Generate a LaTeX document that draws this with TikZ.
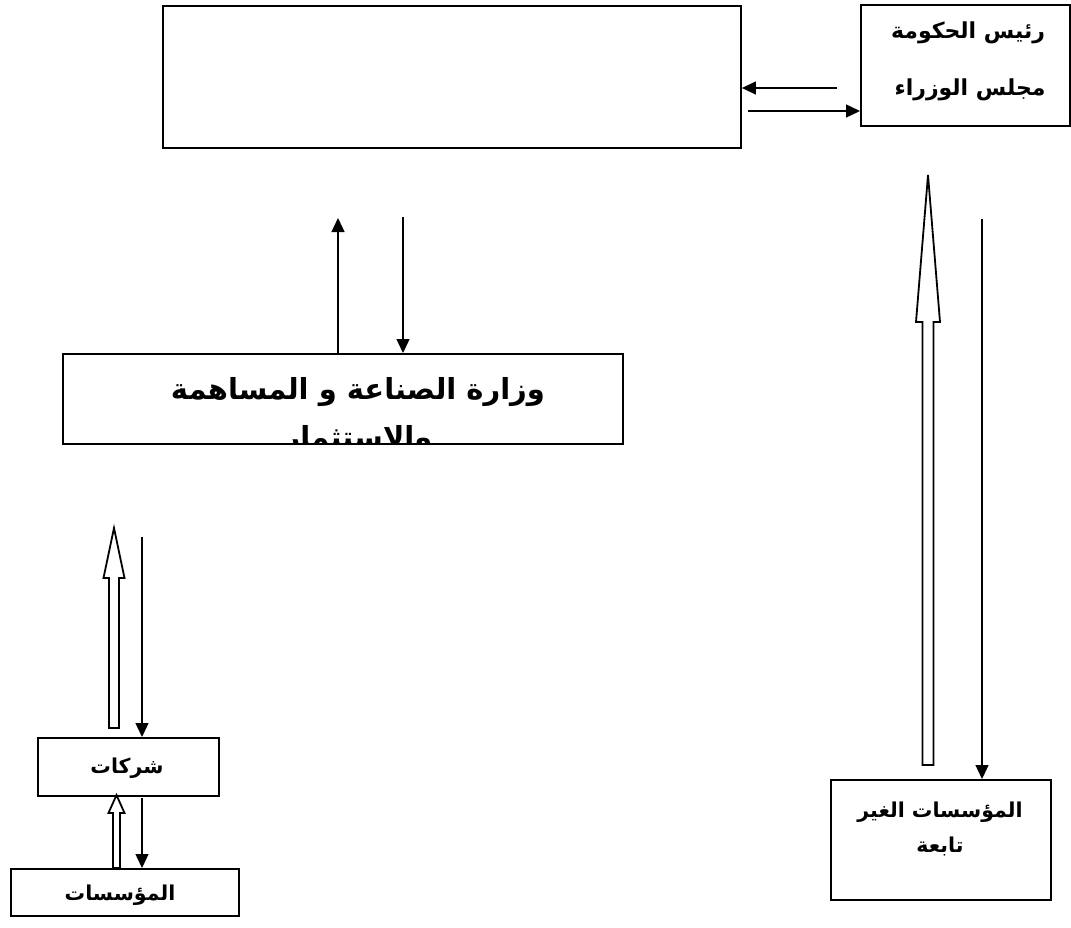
\documentclass[tikz,border=0pt]{standalone}
\usepackage{fontspec}
\newfontfamily\arabicfont[Script=Arabic]{DejaVu Sans}
\TeXXeTstate=1
\usetikzlibrary{arrows.meta,calc}
\newcommand\blockarrow[6]{% xc, ybottom, ytip, ybase, shafthalf, headhalf
  \draw[hollow] ({#1-#5},#2) -- ({#1-#5},#4) -- ({#1-#6},#4) -- (#1,#3)
     -- ({#1+#6},#4) -- ({#1+#5},#4) -- ({#1+#5},#2) -- cycle;}
\begin{document}
\begin{tikzpicture}[x=1pt,y=-1pt,
  box/.style={draw, line width=1.9pt, anchor=north west, inner sep=0pt},
  conn/.style={line width=1.4pt, -{Triangle[length=14pt,width=13pt]}},
  hollow/.style={draw, line width=1.8pt, fill=white, line join=miter},
  lbl/.style={font=\arabicfont\bfseries\fontsize{20.5}{24}\selectfont, inner sep=0pt},
  pmlbl/.style={font=\arabicfont\bfseries\fontsize{22}{26}\selectfont, inner sep=0pt},
  big/.style={font=\arabicfont\bfseries\fontsize{29}{34}\selectfont, inner sep=0pt}]
\useasboundingbox (0,0) rectangle (1071,927);
\fill[white] (0,0) rectangle (1071,927);
% boxes
\node[box, minimum width=578pt, minimum height=142pt] (top) at (162,5) {};
\node[box, minimum width=209pt, minimum height=121pt] (pm) at (860,4) {};
\node[box, minimum width=560pt, minimum height=90pt] (mid) at (62,353) {};
\node[box, minimum width=181pt, minimum height=58pt] (sh) at (37,737) {};
\node[box, minimum width=228pt, minimum height=47pt] (mu) at (10,868) {};
\node[box, minimum width=220pt, minimum height=120pt] (nt) at (830,779) {};
% texts
\node[pmlbl] (pm1) at (968,33) {\beginR رئيس الحكومة\endR};
\node[pmlbl] (pm2) at (970,90) {\beginR مجلس الوزراء\endR};
\node[big, anchor=base] (m1) at (358,399) {\beginR وزارة الصناعة و المساهمة\endR};
\begin{scope}
  \clip (mid.south west) rectangle (mid.north east);
  \node[big, anchor=base] (m2) at (358,447) {\beginR والاستثمار\endR};
\end{scope}
\node[lbl] (sht) at (127,768) {\beginR شركات\endR};
\node[lbl] (mut) at (120,895) {\beginR المؤسسات\endR};
\node[lbl] (nt1) at (940,812) {\beginR المؤسسات الغير\endR};
\node[lbl] (nt2) at (940,846) {\beginR تابعة\endR};
% connectors
\coordinate (a1) at (837,88);
\coordinate (a2) at (748,111);
\draw[conn] (a1) -- (a1 -| top.east);
\draw[conn] (a2) -- (a2 -| pm.west);
\coordinate (u1) at (338,218);
\coordinate (d1) at (403,217);
\draw[conn] (u1 |- mid.north) -- (u1);
\draw[conn] (d1) -- (d1 |- mid.north);
\coordinate (d2) at (982,219);
\draw[conn] (d2) -- (d2 |- nt.north);
\coordinate (d3) at (142,537);
\draw[conn] (d3) -- (d3 |- sh.north);
\coordinate (d4) at (142,798);
\draw[conn] (d4) -- (d4 |- mu.north);
% hollow block arrows
\blockarrow{114}{728}{528}{578}{5}{10.5}
\blockarrow{116.5}{868}{795}{813}{3.5}{8}
\blockarrow{928}{765}{175}{322}{5.5}{12}
\end{tikzpicture}
\end{document}
